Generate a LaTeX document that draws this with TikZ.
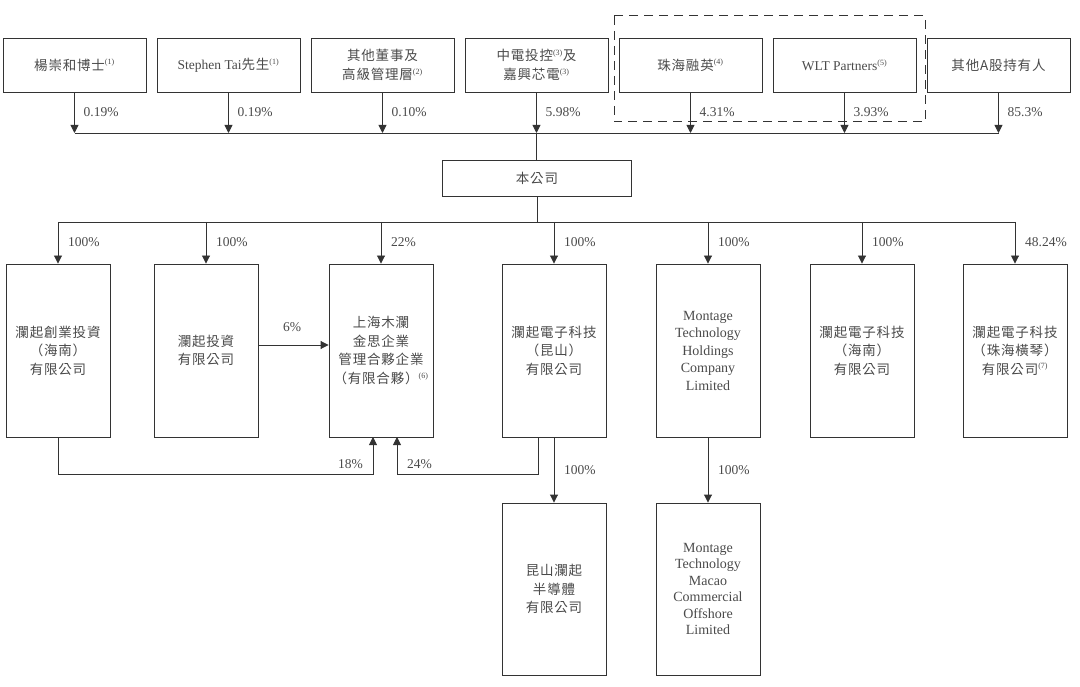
\documentclass[tikz,border=0pt]{standalone}
\usepackage{fontspec}
\setmainfont{Liberation Serif}
\newfontfamily\cjk[LetterSpace=6]{Noto Sans CJK TC}
\usetikzlibrary{arrows.meta}
\definecolor{txt}{HTML}{4A4A4A}
\definecolor{ln}{HTML}{333333}
\newcommand\fn[1]{\textsuperscript{\fontsize{8}{8}\selectfont(#1)}}
\newcommand\zh[1]{{\cjk #1}}
\begin{document}
\begin{tikzpicture}[x=1pt,y=-1pt,
  box/.style={draw=ln, line width=0.9pt, align=center, text=txt, inner sep=0pt,
    font=\fontsize{13.5}{18.5}\selectfont},
  topbox/.style={box, minimum width=143pt, minimum height=54pt},
  kid/.style={box, minimum width=104pt, minimum height=173pt},
  conn/.style={draw=ln, line width=0.9pt},
  arr/.style={conn, -{Triangle[length=8pt,width=8pt]}},
  pct/.style={text=txt, font=\fontsize{13.5}{15}\selectfont, inner sep=0pt}]
\useasboundingbox (0,0) rectangle (1080,687);

% top row
\node[topbox] (t1) at (74.5,65) {\zh{楊崇和博士}\fn{1}};
\node[topbox] (t2) at (228.5,65) {Stephen Tai\zh{先生}\fn{1}};
\node[topbox] (t3) at (382.5,65) {\zh{其他董事及}\\\zh{高級管理層}\fn{2}};
\node[topbox] (t4) at (536.5,65) {\zh{中電投控}\fn{3}\zh{及}\\\zh{嘉興芯電}\fn{3}};
\node[topbox] (t5) at (690.5,65) {\zh{珠海融英}\fn{4}};
\node[topbox] (t6) at (844.5,65) {WLT Partners\fn{5}};
\node[topbox] (t7) at (998.5,65) {\zh{其他A股持有人}};

\draw[ln, line width=1pt, dash pattern=on 9pt off 6pt] (614,16) rectangle (925,122);

\coordinate (bus) at (0,133);
\foreach \i/\p in {1/0.19\%,2/0.19\%,3/0.10\%,4/5.98\%,5/4.31\%,6/3.93\%,7/85.3\%}{
  \draw[arr] (t\i.south) -- (t\i.south |- bus);
  \node[pct, anchor=west] at ([xshift=9pt]t\i.south |- 0,112) {\p};
}
\draw[conn] (t1.south |- bus) -- (t7.south |- bus);

% company
\node[box, minimum width=189pt, minimum height=36pt] (co) at (537,178) {\zh{本公司}};
\draw[conn] (t4.south |- bus) -- (t4.south |- co.north);

% children
\node[kid] (a) at (58,350.5) {\zh{瀾起創業投資}\\\zh{（海南）}\\\zh{有限公司}};
\node[kid] (b) at (206,350.5) {\zh{瀾起投資}\\\zh{有限公司}};
\node[kid] (c) at (381,350.5) {\zh{上海木瀾}\\\zh{金思企業}\\\zh{管理合夥企業}\\\zh{（有限合夥）}\fn{6}};
\node[kid] (d) at (554,350.5) {\zh{瀾起電子科技}\\\zh{（昆山）}\\\zh{有限公司}};
\node[kid, font=\fontsize{14}{17.5}\selectfont] (e) at (708,350.5) {Montage\\Technology\\Holdings\\Company\\Limited};
\node[kid] (f) at (862,350.5) {\zh{瀾起電子科技}\\\zh{（海南）}\\\zh{有限公司}};
\node[kid] (g) at (1015,350.5) {\zh{瀾起電子科技}\\\zh{（珠海橫琴）}\\\zh{有限公司}\fn{7}};

\coordinate (bus2) at (0,222);
\draw[conn] (co.south) -- (co.south |- bus2);
\draw[conn] (a.north |- bus2) -- (g.north |- bus2);
\foreach \k/\p in {a/100\%,b/100\%,c/22\%,d/100\%,e/100\%,f/100\%,g/48.24\%}{
  \draw[arr] (\k.north |- bus2) -- (\k.north);
  \node[pct, anchor=west] at ([xshift=10pt]\k.north |- 0,242) {\p};
}

% cross holdings
\draw[arr] (b.east |- 0,345) -- (c.west |- 0,345);
\node[pct] at (292,327) {6\%};

\coordinate (ca) at (373,437);
\coordinate (cd) at (397,437);
\coordinate (dd) at (538,437);
\draw[arr] (a.south) -- (58,474) -- (ca |- 0,474) -- (ca);
\draw[arr] (dd) -- (538,474) -- (cd |- 0,474) -- (cd);
\node[pct, anchor=east] at (363,464) {18\%};
\node[pct, anchor=west] at (407,464) {24\%};

% grandchildren
\node[kid, minimum height=172pt] (h) at (554,589) {\zh{昆山瀾起}\\\zh{半導體}\\\zh{有限公司}};
\node[kid, minimum height=172pt, font=\fontsize{14}{16.5}\selectfont] (m) at (708,589) {Montage\\Technology\\Macao\\Commercial\\Offshore\\Limited};
\draw[arr] (d.south) -- (h.north);
\draw[arr] (e.south) -- (m.north);
\node[pct, anchor=west] at ([xshift=10pt]d.south |- 0,470) {100\%};
\node[pct, anchor=west] at ([xshift=10pt]e.south |- 0,470) {100\%};
\end{tikzpicture}
\end{document}
